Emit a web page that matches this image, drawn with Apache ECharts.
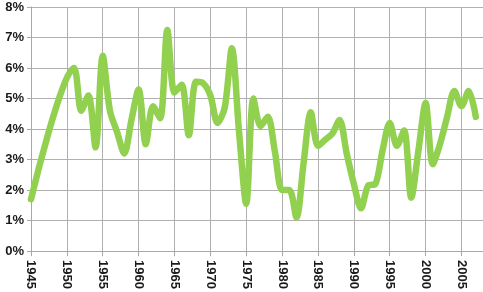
<!DOCTYPE html>
<html>
<head>
<meta charset="utf-8">
<script src="https://cdn.jsdelivr.net/npm/echarts@6/dist/echarts.min.js"></script>
<style>
  html, body { margin: 0; padding: 0; background: #fff; }
  #chart { width: 483px; height: 292px; }
</style>
</head>
<body>
<div id="chart"></div>
<script>
  // years with a reading (no points between 1945 and 1951)
  var years = [1945, 1951, 1952, 1953, 1954, 1955, 1956, 1957, 1958, 1959,
    1960, 1961, 1962, 1963, 1964, 1965, 1966, 1967, 1968, 1969,
    1970, 1971, 1972, 1973, 1974, 1975, 1976, 1977, 1978, 1979,
    1980, 1981, 1982, 1983, 1984, 1985, 1986, 1987, 1988, 1989,
    1990, 1991, 1992, 1993, 1994, 1995, 1996, 1997, 1998, 1999,
    2000, 2001, 2002, 2003, 2004, 2005, 2006, 2007];
  // percent
  var rates = [1.7, 6.0, 4.6, 5.1, 3.4, 6.4, 4.6, 3.9, 3.2, 4.3,
    5.3, 3.5, 4.75, 4.35, 7.25, 5.2, 5.45, 3.8, 5.55, 5.5,
    5.1, 4.2, 4.7, 6.65, 3.9, 1.55, 5.0, 4.1, 4.4, 3.25,
    2.0, 2.0, 1.1, 2.9, 4.55, 3.45, 3.65, 3.85, 4.3, 3.2,
    2.2, 1.4, 2.15, 2.2, 3.3, 4.2, 3.45, 3.95, 1.75, 3.3,
    4.85, 2.85, 3.5, 4.4, 5.25, 4.75, 5.25, 4.4];

  var points = years.map(function (y, i) { return [y, rates[i]]; });

  var chart = echarts.init(document.getElementById('chart'));
  var labelFont = {
    fontFamily: 'Liberation Sans, Arial, sans-serif',
    fontSize: 13,
    fontWeight: 'bold',
    color: '#1a1a1a'
  };

  chart.setOption({
    animation: false,
    grid: {
      left: 31,
      right: -2,
      top: 7,
      bottom: 38
    },
    xAxis: {
      type: 'value',
      min: 1945,
      max: 2008,
      interval: 5,
      axisLine: { show: true, lineStyle: { color: '#a8a8a8', width: 1 } },
      axisTick: { show: true, length: 5, lineStyle: { color: '#a8a8a8' } },
      axisLabel: Object.assign({
        rotate: -90,
        margin: 9,
        showMaxLabel: false,
        formatter: function (v) { return String(v); }
      }, labelFont),
      splitLine: { show: true, lineStyle: { color: '#b0b0b0', width: 1 } }
    },
    yAxis: {
      type: 'value',
      min: 0,
      max: 8,
      interval: 1,
      axisLine: { show: true, lineStyle: { color: '#a8a8a8', width: 1 } },
      axisTick: { show: true, length: 4, lineStyle: { color: '#a8a8a8' } },
      axisLabel: Object.assign({
        margin: 7,
        formatter: '{value}%'
      }, labelFont),
      splitLine: { show: true, lineStyle: { color: '#b0b0b0', width: 1 } }
    },
    series: [{
      type: 'line',
      data: points,
      smooth: 0.3,
      showSymbol: false,
      lineStyle: { color: '#92d050', width: 6.5, cap: 'round', join: 'round' }
    }]
  });
</script>
</body>
</html>
